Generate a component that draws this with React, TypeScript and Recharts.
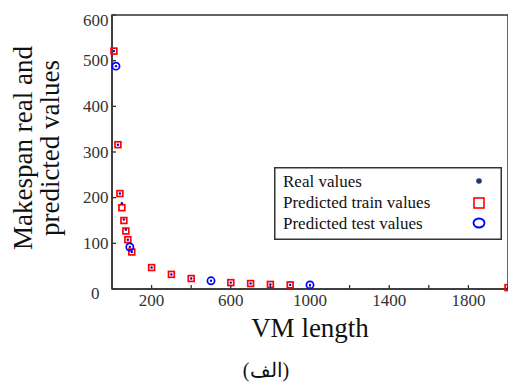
import React from 'react';
import { ScatterChart, Scatter, XAxis, YAxis, ReferenceArea, Legend, Label } from 'recharts';

const trainX = [10, 30, 40, 50, 60, 70, 80, 100, 200, 300, 400, 600, 700, 800, 900, 2000];
const trainY = [521, 316, 209, 178, 150, 127, 108, 81, 47, 32, 23, 14, 12, 10, 9, 3];
const testX = [20, 90, 500, 1000];
const testY = [488, 92, 18, 9];
const realX = [10, 20, 30, 40, 50, 60, 70, 80, 90, 100, 200, 300, 400, 500, 600, 700, 800, 900, 1000, 2000];
const realY = [521, 488, 316, 209, 188, 152, 130, 108, 92, 81, 47, 32, 23, 18, 14, 12, 10, 9, 9, 3];
const xTicks = [200, 400, 600, 800, 1000, 1200, 1400, 1600, 1800];
const xTickLabels = ['200', '', '600', '', '1000', '', '1400', '', '1800'];
const yTicks = [0, 100, 200, 300, 400, 500, 600];
const yTickLabels = ['0', '100', '200', '300', '400', '500', '600'];
const legendLabels = ['Real values', 'Predicted train values', 'Predicted test values'];

const toPoints = (xs: number[], ys: number[]) => xs.map((x, i) => ({ x, y: ys[i] }));
const trainData = toPoints(trainX, trainY);
const testData = toPoints(testX, testY);
const realData = toPoints(realX, realY);

const FONT = '"Liberation Serif", "Times New Roman", serif';
const AXIS = '#333';
const RED = '#ff0000';
const BLUE = '#0000ff';
const NAVY = '#1f3a78';

const Square = (p: any) => (
  <rect x={p.cx - 2.9} y={p.cy - 2.9} width={5.8} height={5.8} fill="none" stroke={RED} strokeWidth={1.7} />
);
const Circle = (p: any) => (
  <circle cx={p.cx} cy={p.cy} r={3.6} fill="none" stroke={BLUE} strokeWidth={1.7} />
);
const Dot = (p: any) => <circle cx={p.cx} cy={p.cy} r={1.2} fill={BLUE} />;

const XTick = (p: any) => {
  const i = xTicks.indexOf(p.payload.value);
  return (
    <g>
      <line x1={p.x} x2={p.x} y1={p.y} y2={p.y - 4} stroke={AXIS} strokeWidth={1.3} />
      <text x={p.x} y={p.y + 17} textAnchor="middle" fontSize={17} fontFamily={FONT} fill="#333">
        {i >= 0 ? xTickLabels[i] : ''}
      </text>
    </g>
  );
};

const YTick = (p: any) => {
  const v = p.payload.value;
  const i = yTicks.indexOf(v);
  const dy = v === 0 ? 10 : v === 600 ? 11 : 5.5;
  const dx = v === 0 ? 12.5 : 3.5;
  return (
    <g>
      <line x1={p.x} x2={p.x + 4} y1={p.y} y2={p.y} stroke={AXIS} strokeWidth={1.3} />
      <text x={p.x - dx} y={p.y + dy} textAnchor="end" fontSize={17} fontFamily={FONT} fill="#333">
        {i >= 0 ? yTickLabels[i] : ''}
      </text>
    </g>
  );
};

const renderLegend = () => (
  <svg width={228} height={73} style={{ display: 'block' }}>
    <rect x={0.75} y={0.75} width={226.5} height={71.5} fill="#fff" stroke={AXIS} strokeWidth={1.5} />
    {legendLabels.map((t, i) => (
      <text key={t} x={9} y={20 + i * 21} fontSize={17} fontFamily={FONT} fill="#111">
        {t}
      </text>
    ))}
    <circle cx={205} cy={14} r={2.8} fill={NAVY} />
    <rect x={200} y={31} width={10} height={10} fill="none" stroke={RED} strokeWidth={1.6} />
    <ellipse cx={205} cy={56} rx={5.5} ry={4.5} fill="none" stroke={BLUE} strokeWidth={1.8} />
  </svg>
);

const YLabel = (props: any) => {
  const cy = 140;
  return (
    <g>
      <text x={24} y={cy} transform={`rotate(-90, 24, ${cy})`} textAnchor="middle" fontSize={27} fontFamily={FONT} fill="#111">
        Makespan real and
      </text>
      <text x={51} y={cy} transform={`rotate(-90, 51, ${cy})`} textAnchor="middle" fontSize={27} fontFamily={FONT} fill="#111">
        predicted values
      </text>
    </g>
  );
};

const XLabel = (props: any) => {
  const vb = props.viewBox || { x: 104, y: 281, width: 396 };
  return (
    <text x={vb.x + vb.width / 2} y={vb.y + 48} textAnchor="middle" fontSize={27} fontFamily={FONT} fill="#111">
      VM length
    </text>
  );
};

export default function App() {
  return (
    <div style={{ position: 'relative', width: 508, height: 374, fontFamily: FONT }}>
      <ScatterChart width={508} height={374} margin={{ top: 7, right: 8, bottom: 0, left: 0 }} style={{ fontFamily: FONT }}>
        <XAxis
          type="number"
          dataKey="x"
          domain={[0, 2000]}
          ticks={xTicks}
          interval={0}
          tickSize={0}
          tickMargin={0}
          tickLine={false}
          tick={XTick}
          height={93}
          stroke={AXIS}
          strokeWidth={1.5}
        >
          <Label content={XLabel} />
        </XAxis>
        <YAxis
          type="number"
          dataKey="y"
          domain={[0, 600]}
          ticks={yTicks}
          interval={0}
          tickSize={0}
          tickMargin={0}
          tickLine={false}
          tick={YTick}
          width={104}
          stroke={AXIS}
          strokeWidth={1.5}
        >
          <Label content={YLabel} />
        </YAxis>
        <ReferenceArea x1={0} x2={2000} y1={0} y2={600} fill="none" stroke={AXIS} strokeWidth={1.5} strokeOpacity={1} />
        <Scatter name="Predicted train values" data={trainData} shape={Square} isAnimationActive={false} />
        <Scatter name="Predicted test values" data={testData} shape={Circle} isAnimationActive={false} />
        <Scatter name="Real values" data={realData} shape={Dot} isAnimationActive={false} />
        <Legend
          layout="vertical"
          align="center"
          verticalAlign="middle"
          content={renderLegend}
          wrapperStyle={{ position: 'absolute', left: 266, top: 159, width: 228, height: 73 }}
        />
      </ScatterChart>
      <div
        style={{
          position: 'absolute',
          left: 208,
          width: 100,
          top: 350,
          textAlign: 'center',
          fontSize: 20,
          fontFamily: FONT,
          color: '#111',
          lineHeight: '24px',
        }}
      >
        (الف)
      </div>
    </div>
  );
}
